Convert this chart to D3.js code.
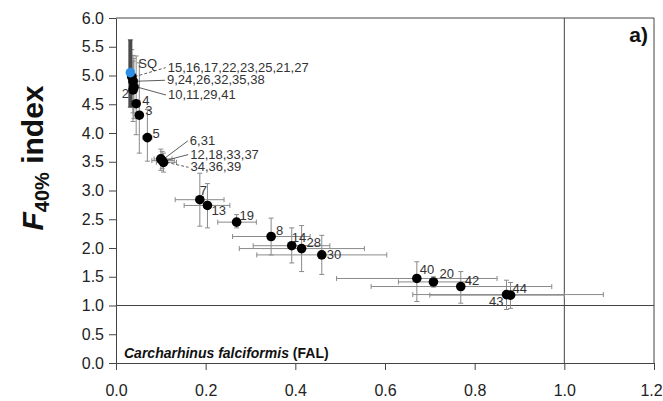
<!DOCTYPE html>
<html>
<head>
  <meta charset="utf-8">
  <title>F40% index - FAL</title>
  <script src="https://d3js.org/d3.v7.min.js"></script>
  <style>
    body { margin: 0; background: #fff; }
    text { font-family: "Liberation Sans", Arial, sans-serif; }
  </style>
</head>
<body>
<svg id="chart"></svg>
<script>
// points (x = F/Fmsy-like ratio, y = F40% index)
const labels = ["SQ", "15,16,17,22,23,25,21,27", "9,24,26,32,35,38", "10,11,29,41", "2",
  "4", "3", "5", "6,31", "12,18,33,37", "34,36,39", "7", "13", "19", "8", "14", "28", "30",
  "40", "20", "42", "43", "44"];
const xVals = [0.032, 0.035, 0.038, 0.040, 0.038, 0.045, 0.052, 0.070, 0.100, 0.103, 0.106,
  0.187, 0.204, 0.269, 0.346, 0.392, 0.414, 0.459, 0.671, 0.708, 0.769, 0.871, 0.880];
const yVals = [5.05, 4.98, 4.90, 4.80, 4.75, 4.51, 4.31, 3.92, 3.55, 3.52, 3.49,
  2.84, 2.74, 2.45, 2.20, 2.04, 1.99, 1.88, 1.47, 1.41, 1.33, 1.19, 1.18];
const xLow = [0.032, 0.028, 0.030, 0.031, 0.030, 0.038, 0.044, 0.060, 0.085, 0.080, 0.090,
  0.132, 0.152, 0.227, 0.260, 0.306, 0.275, 0.314, 0.492, 0.630, 0.569, 0.662, 0.700];
const xHigh = [0.032, 0.045, 0.048, 0.050, 0.047, 0.052, 0.060, 0.080, 0.125, 0.130, 0.135,
  0.241, 0.254, 0.313, 0.433, 0.477, 0.554, 0.604, 0.850, 0.790, 0.972, 1.087, 1.000];
const yLow = [4.45, 4.45, 4.35, 4.25, 4.20, 3.97, 3.65, 3.51, 3.35, 3.38, 3.32,
  2.38, 2.35, 2.35, 1.88, 1.74, 1.59, 1.54, 1.07, 1.32, 1.04, 0.93, 0.95];
const yHigh = [5.62, 5.45, 5.35, 5.30, 5.25, 5.34, 5.22, 4.41, 3.72, 3.68, 3.65,
  3.30, 3.12, 2.58, 2.52, 2.35, 2.39, 2.22, 1.76, 1.50, 1.59, 1.44, 1.40];

const xTicks = [0, 0.2, 0.4, 0.6, 0.8, 1.0, 1.2];
const yTicks = [0, 0.5, 1, 1.5, 2, 2.5, 3, 3.5, 4, 4.5, 5, 5.5, 6];

// label placement (pixel offsets from the point) and leader style
const labelDx = [8, 36, 34, 34, -4, 6, 6, 5, 29, 28, 27, 0, 4, 3, 5, 0, 5, 5, 3, 6, 4, -3, 2];
const labelDy = [-5, -5, 3, 12, 8, 1, 0, 0, -14, -2, 9, -5, 10, -2, -2, -4, -2, 4, -4, -4, -2, 11, -2];
const leader = ["", "dash", "solid", "solid", "", "", "", "", "solid", "solid", "dash",
  "", "", "", "", "", "", "", "", "", "", "", ""];
const anchorEnd = ["2", "43"];

const width = 663, height = 401;
const margin = { top: 18, right: 9, bottom: 38, left: 116 };

const svg = d3.select("#chart")
  .attr("width", width)
  .attr("height", height);

const x = d3.scaleLinear().domain([0, 1.2]).range([margin.left, width - margin.right]);
const y = d3.scaleLinear().domain([0, 6]).range([height - margin.bottom, margin.top]);

const axisColor = "#444";

// frame: top and right
svg.append("line")
  .attr("x1", x(0)).attr("x2", x(1.2)).attr("y1", y(6)).attr("y2", y(6))
  .attr("stroke", axisColor);
svg.append("line")
  .attr("x1", x(1.2)).attr("x2", x(1.2)).attr("y1", y(0)).attr("y2", y(6))
  .attr("stroke", axisColor);

// reference lines at 1
svg.append("line")
  .attr("x1", x(0)).attr("x2", x(1.2)).attr("y1", y(1)).attr("y2", y(1))
  .attr("stroke", axisColor);
svg.append("line")
  .attr("x1", x(1)).attr("x2", x(1)).attr("y1", y(0)).attr("y2", y(6))
  .attr("stroke", axisColor);

// axes
const gx = svg.append("g")
  .attr("transform", `translate(0,${y(0)})`)
  .call(d3.axisBottom(x).tickValues(xTicks).tickFormat(d3.format(".1f")).tickSize(7).tickSizeOuter(0).tickPadding(15));
const gy = svg.append("g")
  .attr("transform", `translate(${x(0)},0)`)
  .call(d3.axisLeft(y).tickValues(yTicks).tickFormat(d3.format(".1f")).tickSize(7).tickSizeOuter(0).tickPadding(5));
[gx, gy].forEach(g => {
  g.selectAll("path, line").attr("stroke", axisColor);
  g.selectAll("text").attr("font-size", 16).attr("fill", "#222")
    .attr("font-family", "'Liberation Sans', Arial, sans-serif");
});
// last x label sits against the right edge
gx.selectAll(".tick text").filter(d => d === 1.2).attr("dx", -3);

const pts = labels.map((l, i) => ({
  label: l, x: xVals[i], y: yVals[i],
  xl: xLow[i], xh: xHigh[i], yl: yLow[i], yh: yHigh[i],
  dx: labelDx[i], dy: labelDy[i], lead: leader[i]
}));

const cap = 2.5;
const errCol = "#8a8a8a";
const eb = svg.append("g");

// horizontal error bars
pts.filter(d => d.xh > d.xl).forEach(d => {
  eb.append("line").attr("x1", x(d.xl)).attr("x2", x(d.xh)).attr("y1", y(d.y)).attr("y2", y(d.y))
    .attr("stroke", errCol);
  [d.xl, d.xh].forEach(v => eb.append("line")
    .attr("x1", x(v)).attr("x2", x(v)).attr("y1", y(d.y) - cap).attr("y2", y(d.y) + cap)
    .attr("stroke", errCol));
});

// vertical error bars (SQ one is dark and thick)
pts.filter(d => d.label !== "SQ").concat(pts.filter(d => d.label === "SQ")).forEach(d => {
  const sq = d.label === "SQ";
  eb.append("line").attr("x1", x(d.x)).attr("x2", x(d.x)).attr("y1", y(d.yl)).attr("y2", y(d.yh))
    .attr("stroke", sq ? "#4a4a4a" : errCol)
    .attr("stroke-width", sq ? 4 : 1);
  [d.yl, d.yh].forEach(v => eb.append("line")
    .attr("x1", x(d.x) - cap).attr("x2", x(d.x) + cap).attr("y1", y(v)).attr("y2", y(v))
    .attr("stroke", sq ? "#4a4a4a" : errCol));
});

// leader lines to the grouped labels
svg.append("g").selectAll("line")
  .data(pts.filter(d => d.lead))
  .join("line")
  .attr("x1", d => x(d.x) + 3)
  .attr("y1", d => y(d.y))
  .attr("x2", d => x(d.x) + d.dx - 2)
  .attr("y2", d => y(d.y) + d.dy - 4)
  .attr("stroke", "#333")
  .attr("stroke-width", 0.8)
  .attr("stroke-dasharray", d => d.lead === "dash" ? "3,2" : null);

// points (SQ drawn last, on top)
const ordered = pts.filter(d => d.label !== "SQ").reverse().concat(pts.filter(d => d.label === "SQ"));
svg.append("g").selectAll("circle")
  .data(ordered)
  .join("circle")
  .attr("cx", d => x(d.x))
  .attr("cy", d => y(d.y))
  .attr("r", 4.8)
  .attr("fill", d => d.label === "SQ" ? "#2f8fe6" : "#000");

// point labels
svg.append("g").selectAll("text")
  .data(pts)
  .join("text")
  .attr("x", d => x(d.x) + d.dx)
  .attr("y", d => y(d.y) + d.dy)
  .attr("text-anchor", d => anchorEnd.includes(d.label) ? "end" : "start")
  .attr("font-size", 13)
  .attr("fill", "#333")
  .text(d => d.label);

// species label
const sp = svg.append("text")
  .attr("x", x(0) + 8)
  .attr("y", y(0) - 5)
  .attr("font-size", 14)
  .attr("font-weight", "bold")
  .attr("fill", "#111");
sp.append("tspan").attr("font-style", "italic").text("Carcharhinus falciformis");
sp.append("tspan").text(" (FAL)");

// panel letter
svg.append("text")
  .attr("x", 648)
  .attr("y", 42)
  .attr("text-anchor", "end")
  .attr("font-size", 21)
  .attr("font-weight", "bold")
  .attr("fill", "#111")
  .text("a)");

// y axis title
const yt = svg.append("text")
  .attr("transform", "translate(43,158) rotate(-90)")
  .attr("text-anchor", "middle")
  .attr("font-size", 30)
  .attr("font-weight", "bold")
  .attr("fill", "#111");
yt.append("tspan").attr("font-style", "italic").text("F");
yt.append("tspan").attr("font-size", 20).attr("dy", 6).text("40%");
yt.append("tspan").attr("dy", -6).text(" index");
</script>
</body>
</html>
